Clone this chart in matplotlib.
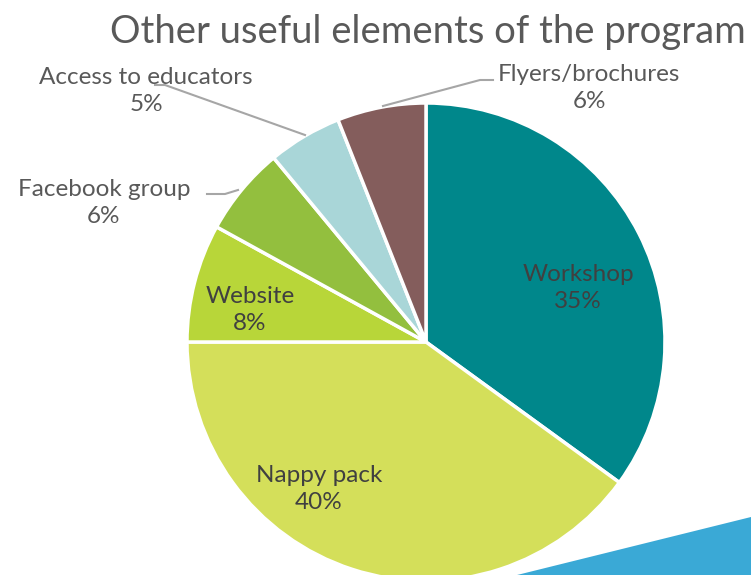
import matplotlib
matplotlib.use("Agg")
import matplotlib.pyplot as plt
from matplotlib.patches import Polygon

categories = ["Workshop", "Nappy pack", "Website", "Facebook group",
              "Access to educators", "Flyers/brochures"]
shares = [35, 40, 8, 6, 5, 6]
colors = ["#00878b", "#d4df5a", "#b8d639", "#93bf3e", "#a9d6d8", "#845d5c"]

W, H = 751, 575
fig = plt.figure(figsize=(W / 100, H / 100), dpi=100)
ax = fig.add_axes([0, 0, 1, 1])


def Y(y):
    # top-down pixel row to axis coordinate
    return H - y


# decorative blue band at the lower right
band = Polygon([(505, Y(578)), (751, Y(517)), (751, Y(578))], closed=True,
               facecolor="#3aa9d6", edgecolor="none", zorder=0)
ax.add_patch(band)

cx, cy, r = 426, 342, 239
wedges, _ = ax.pie(shares, colors=colors, startangle=90, counterclock=False,
                   center=(cx, Y(cy)), radius=r, frame=True,
                   wedgeprops=dict(edgecolor="white", linewidth=2.5))
ax.set_xlim(0, W)
ax.set_ylim(0, H)
ax.set_aspect("equal")
ax.axis("off")

font = "Lato"
tc = "#595959"
ic = "#404040"
fs = 17.5
ls = 1.3

ax.text(428, Y(32), "Other useful elements of the program", ha="center", va="center",
        fontsize=27.5, color=tc, family=font)


def label(x, y, i, color):
    ax.text(x, Y(y), f"{categories[i]}\n{shares[i]}%", ha="center", va="center",
            fontsize=fs, color=color, family=font, linespacing=ls)


# inside labels
label(578, 288, 0, ic)
label(319, 489, 1, ic)
label(250, 310, 2, ic)

# outside labels with leader lines
lc = "#a6a6a6"
label(104, 203, 3, tc)
ax.plot([207, 225, 238], [Y(194), Y(194), Y(190)], color=lc, lw=1.5)

label(146, 91, 4, tc)
ax.plot([155, 165, 305], [Y(85), Y(85), Y(135)], color=lc, lw=1.5)

label(589, 88, 5, tc)
ax.plot([383, 480, 493], [Y(106), Y(80), Y(80)], color=lc, lw=1.5)

fig.savefig("out.png", dpi=100)
